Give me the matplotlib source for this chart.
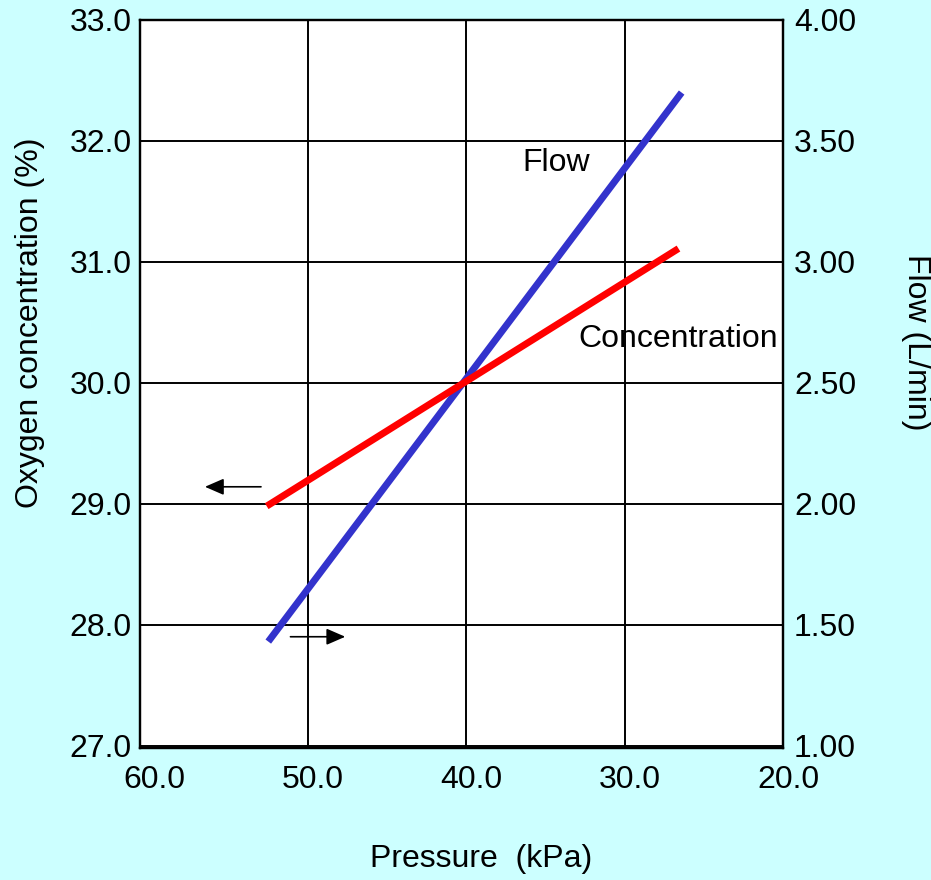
import matplotlib
matplotlib.use("Agg")
import matplotlib.pyplot as plt
from matplotlib.transforms import ScaledTranslation

plt.rcParams['font.family'] = ['Liberation Sans', 'DejaVu Sans']

# Data
pressure_flow = [52.5, 26.4]
flow = [1.43, 3.70]
pressure_conc = [52.6, 26.6]
conc = [28.98, 31.11]

x_ticks = [60, 50, 40, 30, 20]
x_labels = ["60.0", "50.0", "40.0", "30.0", "20.0"]
left_ticks = [27, 28, 29, 30, 31, 32, 33]
left_labels = ["27.0", "28.0", "29.0", "30.0", "31.0", "32.0", "33.0"]
right_ticks = [1.0, 1.5, 2.0, 2.5, 3.0, 3.5, 4.0]
right_labels = ["1.00", "1.50", "2.00", "2.50", "3.00", "3.50", "4.00"]

bg = "#CCFFFF"
fs = 23

W, H = 931, 880
fig = plt.figure(figsize=(W/100, H/100), dpi=100, facecolor=bg)
ax = fig.add_axes([140/W, 1-748/H, (783-140)/W, (748-20)/H])
ax.set_facecolor("white")

ylo, yhi = 26.98, 32.97
ax.set_xlim(60.6, 20)
ax.set_ylim(ylo, yhi)
ax.set_xticks(x_ticks)
ax.set_xticklabels(x_labels, fontsize=fs)
ax.set_yticks(left_ticks)
ax.set_yticklabels(left_labels, fontsize=fs)
ax.tick_params(axis='x', length=0, pad=12)
ax.tick_params(axis='y', length=0, pad=6)
for lab in ax.get_xticklabels():
    lab.set_transform(lab.get_transform() + ScaledTranslation(5/100, 0, fig.dpi_scale_trans))
ax.grid(True, color="black", linewidth=1.4)
ax.get_xgridlines()[0].set_visible(False)
ax.set_axisbelow(True)
for s in ax.spines.values():
    s.set_linewidth(1.6)
    s.set_color("black")

ax2 = ax.twinx()
ax2.set_ylim(1 + (ylo-27)/2, 1 + (yhi-27)/2)
ax2.set_yticks(right_ticks)
ax2.set_yticklabels(right_labels, fontsize=fs)
ax2.tick_params(axis='y', length=0, pad=8)
for s in ax2.spines.values():
    s.set_linewidth(1.6)

ax2.plot(pressure_flow, flow, color="#3333CC", linewidth=5, solid_capstyle='butt', zorder=2)
ax2.plot(pressure_conc, [1 + (c-27)/2 for c in conc], color="#FF0000",
         linewidth=5, solid_capstyle='butt', zorder=3)

fig.text(30/W, 1-323/H, "Oxygen concentration (%)", fontsize=fs, rotation=90,
         ha='center', va='center')
fig.text(916/W, 1-342/H, "Flow (L/min)", fontsize=fs, rotation=-90,
         ha='center', va='center')
fig.text(481/W, 1-859/H, "Pressure  (kPa)", fontsize=fs, ha='center', va='center')

ax.text(34.3, 31.82, "Flow", fontsize=fs, ha='center', va='center')
ax.text(26.63, 30.36, "Concentration", fontsize=fs, ha='center', va='center')

arrow_style = '-|>,head_length=1.15,head_width=0.5'
ax.annotate("", xy=(56.5, 29.14), xytext=(52.96, 29.14),
            arrowprops=dict(arrowstyle=arrow_style, color='black', lw=1.2, shrinkA=0, shrinkB=0))
ax.annotate("", xy=(47.64, 27.90), xytext=(51.1, 27.90),
            arrowprops=dict(arrowstyle=arrow_style, color='black', lw=1.2, shrinkA=0, shrinkB=0))

fig.savefig("out.png", dpi=100, facecolor=bg)
